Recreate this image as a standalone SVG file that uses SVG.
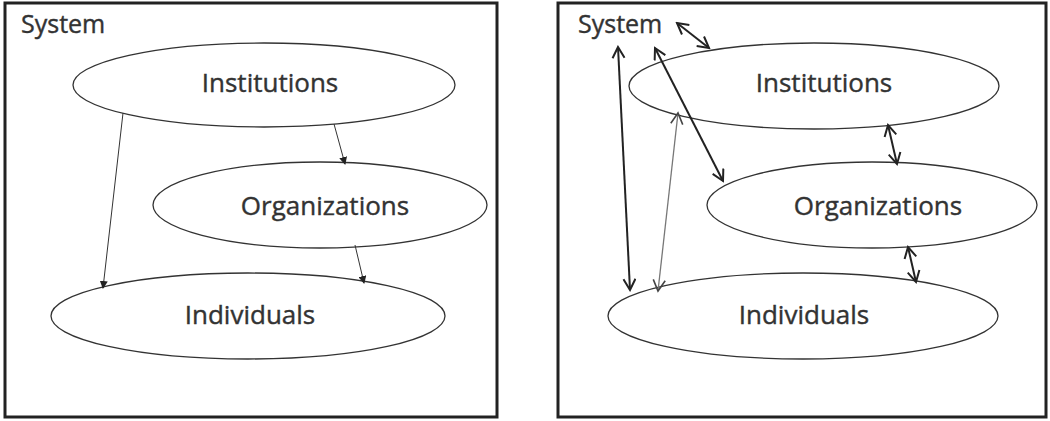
<svg xmlns="http://www.w3.org/2000/svg" width="1050" height="421" viewBox="0 0 1050 421">
<style>
.frame{fill:none;stroke:#222;stroke-width:3}
.node{fill:#fff;stroke:#333;stroke-width:1.3}
.lbl{font-family:"Open Sans","Liberation Sans",sans-serif;font-size:26px;fill:#333;stroke:#333;stroke-width:0.4;text-anchor:middle}
.sys{font-family:"Open Sans","Liberation Sans",sans-serif;font-size:25px;fill:#333;stroke:#333;stroke-width:0.4}
.c1{stroke:#333;stroke-width:1;fill:none;marker-end:url(#tri)}
.c2{stroke:#222;stroke-width:2;fill:none;marker-start:url(#vee);marker-end:url(#vee)}
.c3{stroke:#777;stroke-width:1.3;fill:none;marker-start:url(#vee2);marker-end:url(#vee2)}
</style>
<defs>
<marker id="tri" markerWidth="8" markerHeight="8" refX="7" refY="4" orient="auto" markerUnits="userSpaceOnUse">
<path d="M0,0 L8,4 L0,8 z" fill="#222"/>
</marker>
<marker id="vee" markerWidth="14" markerHeight="14" refX="12" refY="7" orient="auto-start-reverse" markerUnits="userSpaceOnUse">
<path d="M1,1 L12,7 L1,13" fill="none" stroke="#222" stroke-width="2"/>
</marker>
<marker id="vee2" markerWidth="14" markerHeight="14" refX="12" refY="7" orient="auto-start-reverse" markerUnits="userSpaceOnUse">
<path d="M1,1 L12,7 L1,13" fill="none" stroke="#444" stroke-width="1.6"/>
</marker>
</defs>

<g id="left-panel">
<rect class="frame" x="5" y="3" width="492" height="414"/>
<text class="sys" x="21" y="33">System</text>
</g>
<g id="left-institutions">
<ellipse class="node" cx="264" cy="85" rx="191" ry="42"/>
<text class="lbl" x="270" y="92">Institutions</text>
</g>
<g id="left-organizations">
<ellipse class="node" cx="320" cy="205" rx="167" ry="43"/>
<text class="lbl" x="325" y="215">Organizations</text>
</g>
<g id="left-individuals">
<ellipse class="node" cx="248" cy="316" rx="197" ry="43"/>
<text class="lbl" x="250" y="324">Individuals</text>
</g>

<g id="right-panel">
<rect class="frame" x="558" y="3" width="488" height="414"/>
<text class="sys" x="578" y="33">System</text>
</g>
<g id="right-institutions">
<ellipse class="node" cx="814" cy="86" rx="185" ry="43"/>
<text class="lbl" x="824" y="92">Institutions</text>
</g>
<g id="right-organizations">
<ellipse class="node" cx="872" cy="205" rx="165" ry="43"/>
<text class="lbl" x="878" y="215">Organizations</text>
</g>
<g id="right-individuals">
<ellipse class="node" cx="803" cy="316" rx="195" ry="43"/>
<text class="lbl" x="804" y="324">Individuals</text>
</g>

<g id="connectors">
<line class="c1" x1="123" y1="113" x2="103" y2="288"/>
<line class="c1" x1="334" y1="124" x2="345" y2="164"/>
<line class="c1" x1="355" y1="245" x2="364" y2="283"/>

<line class="c2" x1="677" y1="23" x2="709" y2="48"/>
<line class="c2" x1="618" y1="47" x2="630" y2="290"/>
<line class="c2" x1="655" y1="48" x2="723" y2="181"/>
<line class="c3" x1="678" y1="113" x2="658" y2="291"/>
<line class="c2" x1="888" y1="125" x2="897" y2="164"/>
<line class="c2" x1="908" y1="247" x2="916" y2="282"/>
</g>
</svg>
